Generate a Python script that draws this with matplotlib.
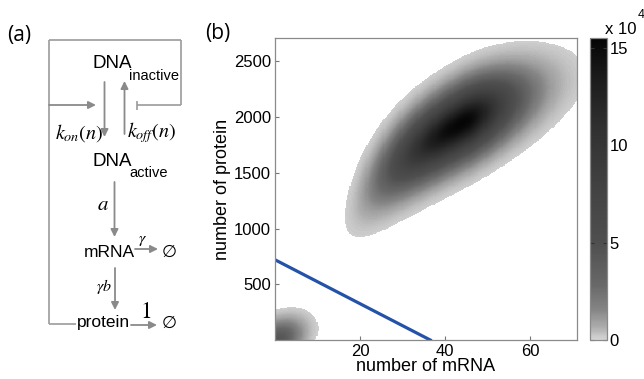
import numpy as np
import matplotlib
matplotlib.use("Agg")
import matplotlib.pyplot as plt
from matplotlib.colors import LinearSegmentedColormap

plt.rcParams["font.family"] = ["Liberation Sans", "DejaVu Sans"]
plt.rcParams["mathtext.fontset"] = "stix"

# ── data ─────────────────────────────────────────────────────────────────────
# main mode: peak position/height, spread of ln(mRNA) below and above the peak,
# slope of the ridge (protein per unit ln mRNA), protein spread about the ridge
main_peak_xy = [44.3, 1950.0]
main_peak_value = 15.5                  # x 1e4
main_ln_mrna_sd = [0.324, 0.164]        # [left, right]
main_ridge_slope = 850.0
main_protein_sd = 196.0

# small mode in the corner
corner_xy = [0.5, 0.0]
corner_sd = [3.7, 113.0]
corner_corr = 0.35
corner_peak_value = 4.5

cutoff = 0.15                           # below this the image is white

# blue separatrix line
line_mrna = [0.0, 36.5]
line_protein = [720.0, 0.0]

mrna_range = (0.0, 71.0)
protein_range = (0.0, 2710.0)
xticks = [20, 40, 60]
yticks = [500, 1000, 1500, 2000, 2500]
cbar_ticks = [0, 5, 10, 15]
cbar_max = 15.5

# grey ramp as seen on the colorbar (position, grey level)
cmap_pos = [0.0, 0.04, 0.1, 0.18, 0.32, 0.5, 0.7, 0.88, 1.0]
cmap_grey = [0.84, 0.68, 0.52, 0.41, 0.31, 0.26, 0.19, 0.10, 0.02]


def density(xx, yy):
    # main mode: gaussian in (ln mRNA, protein) with a split width along mRNA
    u = np.log(xx) - np.log(main_peak_xy[0])
    su = np.where(u < 0, main_ln_mrna_sd[0], main_ln_mrna_sd[1])
    ridge = main_peak_xy[1] + main_ridge_slope * u
    z = main_peak_value * np.exp(-0.5 * (u / su) ** 2
                                 - 0.5 * ((yy - ridge) / main_protein_sd) ** 2)
    # corner mode: plain correlated gaussian
    a = (xx - corner_xy[0]) / corner_sd[0]
    b = (yy - corner_xy[1]) / corner_sd[1]
    r = corner_corr
    q = (a * a - 2 * r * a * b + b * b) / (1 - r * r)
    z += corner_peak_value * np.exp(-0.5 * q)
    return z


fig = plt.figure(figsize=(6.44, 3.79), dpi=100)
fig.patch.set_facecolor("white")

# ── panel (a): reaction scheme, drawn in pixel-like units ───────────────────
ax_a = fig.add_axes([0, 0, 200 / 644, 1])
ax_a.set_xlim(0, 200)
ax_a.set_ylim(379, 0)
ax_a.axis("off")

LINE_C = "#9b9b9b"
ARROW_C = "#8a8a8a"


def seg(x0, y0, x1, y1):
    ax_a.plot([x0, x1], [y0, y1], color=LINE_C, lw=1.2,
              solid_capstyle="butt")


def arrow(x0, y0, x1, y1):
    ax_a.annotate("", xy=(x1, y1), xytext=(x0, y0),
                  arrowprops=dict(arrowstyle="-|>", color=ARROW_C, lw=1.3,
                                  mutation_scale=11, shrinkA=0, shrinkB=0))


# feedback loop
seg(49, 39.5, 181, 39.5)
seg(49, 39.5, 49, 324)
seg(49, 324, 76, 324)
seg(181, 39.5, 181, 105)
seg(181, 105, 137, 105)
seg(137, 100.5, 137, 110)
arrow(49, 105, 96, 105)

# transitions
arrow(104.5, 82, 104.5, 137)
arrow(124.5, 134, 124.5, 81)
arrow(114.5, 182, 114.5, 237)
arrow(135, 249, 158, 249)
arrow(115, 268, 115, 310)
arrow(131, 325, 157, 325)

species_fs = 12.5
sub_fs = 10.5
ax_a.text(92.7, 68.5, "DNA", fontsize=13.5, ha="left", va="baseline")
ax_a.text(129.3, 80, "inactive", fontsize=sub_fs, ha="left", va="baseline")
ax_a.text(92.7, 166, "DNA", fontsize=13.5, ha="left", va="baseline")
ax_a.text(129.3, 177, "active", fontsize=sub_fs, ha="left", va="baseline")
ax_a.text(83.3, 257, "mRNA", fontsize=species_fs, ha="left", va="baseline")
ax_a.text(77.3, 327.5, "protein", fontsize=species_fs, ha="left",
          va="baseline")
for yb in (257, 327.5):
    ax_a.text(161.5, yb, "\u2205", fontsize=species_fs, ha="left",
              va="baseline", family=["DejaVu Sans"])

ax_a.text(55, 133, r"$k_{on}(n)$", fontsize=14.5, ha="left", va="center")
ax_a.text(127, 133, r"$k_{off}(n)$", fontsize=14.5, ha="left", va="center")
ax_a.text(103, 204, r"$a$", fontsize=15, ha="center", va="center")
ax_a.text(143, 241, r"$\gamma$", fontsize=11.5, ha="center", va="center")
ax_a.text(104, 287, r"$\gamma b$", fontsize=11.5, ha="center", va="center")
ax_a.text(145.5, 312, r"$1$", fontsize=17, ha="center", va="center")

fig.text(7 / 644, 1 - 35 / 379, "(a)", fontsize=15, family="Open Sans",
         ha="left", va="center")
fig.text(205 / 644, 1 - 33 / 379, "(b)", fontsize=15, family="Open Sans",
         ha="left", va="center")

# ── panel (b): joint distribution ────────────────────────────────────────────
ax = fig.add_axes([275 / 644, 1 - 340 / 379, 302 / 644, 302 / 379])
xs = np.arange(mrna_range[0] + 0.125, mrna_range[1], 0.25)
ys = np.arange(protein_range[0] + 2.5, protein_range[1], 5.0)
XX, YY = np.meshgrid(xs, ys)
Z = np.ma.masked_less(density(XX, YY), cutoff)

cmap = LinearSegmentedColormap.from_list(
    "ramp", [(p, (g, g, g)) for p, g in zip(cmap_pos, cmap_grey)])
cmap.set_bad("white")
mesh = ax.pcolormesh(XX, YY, Z, cmap=cmap, vmin=0, vmax=cbar_max,
                     shading="auto", rasterized=True)
ax.plot(line_mrna, line_protein, color="#2352a8", lw=2.3)

ax.set_xlim(*mrna_range)
ax.set_ylim(*protein_range)
ax.set_xticks(xticks)
ax.set_yticks(yticks)
ax.tick_params(direction="in", length=3, color="#777777", labelsize=12,
               pad=3)
for s in ax.spines.values():
    s.set_color("#8a8a8a")
    s.set_linewidth(0.9)
ax.set_xlabel("number of mRNA", fontsize=13, labelpad=-1)
ax.set_ylabel("number of protein", fontsize=13, labelpad=2)

cax = fig.add_axes([590 / 644, 1 - 340 / 379, 17 / 644, 302 / 379])
cb = fig.colorbar(mesh, cax=cax, ticks=cbar_ticks)
cb.outline.set_edgecolor("#8a8a8a")
cb.outline.set_linewidth(0.9)
cax.tick_params(direction="in", length=3, labelsize=12, pad=2,
                left=True, right=True, color="#333333")
fig.text(605 / 644, 1 - 29 / 379, "x 10", fontsize=12, ha="left",
         va="center")
fig.text(638 / 644, 1 - 15 / 379, "4", fontsize=9, ha="left", va="center")

fig.savefig("out.png", dpi=100, facecolor="white")
